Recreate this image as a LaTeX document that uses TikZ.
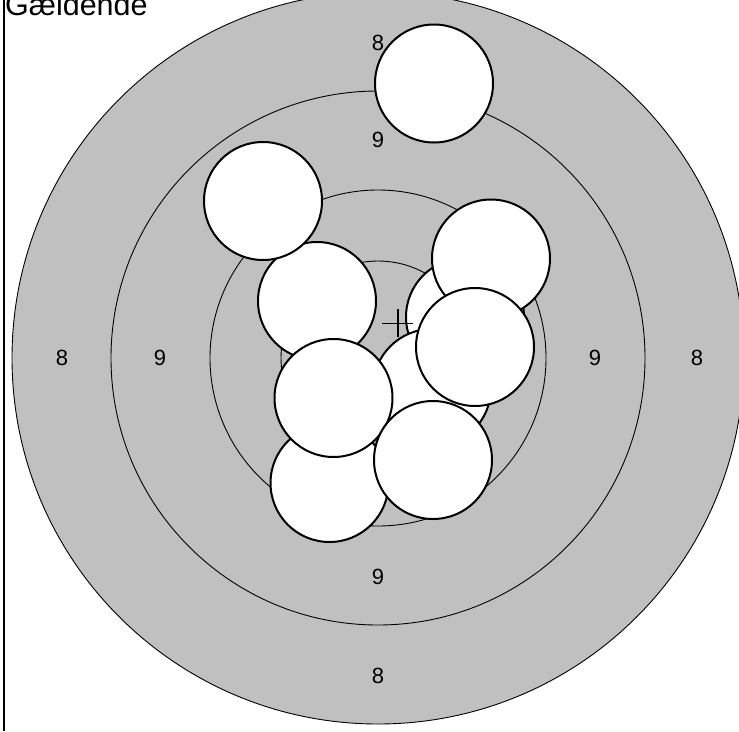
\documentclass[tikz,border=0pt]{standalone}
\usepackage{fontspec}
\setmainfont{Liberation Sans}
\usepackage{xcolor}
\usetikzlibrary{positioning}
\definecolor{targetgrey}{HTML}{C0C0C0}

\begin{document}
\begin{tikzpicture}[x=1pt, y=-1pt,
    ring/.style={line width=0.9pt},
    hole/.style={circle, draw, line width=2pt, fill=white, minimum size=118pt, inner sep=0pt},
    score/.style={font=\fontsize{22}{26}\selectfont, inner sep=0pt}]
    \useasboundingbox (0,0) rectangle (739,731);
    \clip (0,0) rectangle (739,731);

    % Target rings
    \coordinate (centre) at (378,358);
    \draw[ring, fill=targetgrey] (centre) circle (366pt);
    \draw[ring] (centre) circle (267pt);
    \draw[ring] (centre) circle (168pt);
    \draw[ring] (centre) circle (97pt);

    % Ring values
    \node[score] (lefteight) at (62,358) {8};
    \node[score] (leftnine) at (160,358) {9};
    \node[score] (rightnine) at (595,358) {9};
    \node[score] (righteight) at (697,358) {8};
    \node[score] (topeight) at (378,43) {8};
    \node[score] (topnine) at (378,140) {9};
    \node[score] (bottomnine) at (378,577) {9};
    \node[score] (bottomeight) at (378,676) {8};

    % Shot holes
    \node[hole] (shota) at (434,83.5) {};
    \node[hole] (shotd) at (317,301) {};
    \node[hole] (shotb) at (263,201) {};
    \node[hole] (shote) at (465,317) {};
    \node[hole] (shotc) at (491,258.5) {};
    \node[hole] (shotj) at (329.5,483) {};
    \node[hole] (shotg) at (432,388) {};
    \node[hole] (shotf) at (475,347) {};
    \node[hole] (shoth) at (333.5,398) {};
    \node[hole] (shoti) at (433,460) {};

    % Group centre
    \coordinate (groupmark) at (398,323.5);
    \draw[line width=1.2pt] ([xshift=-16pt]groupmark) -- ([xshift=15pt]groupmark);
    \draw[line width=1.2pt] ([yshift=14.5pt]groupmark) -- ([yshift=-13.5pt]groupmark);

    % Frame and title
    \draw[line width=1.3pt] (4,0) -- (4,731);
    \node[anchor=base west, inner sep=0pt, font=\fontsize{30.5}{34}\selectfont] (title) at (5,15) {Gældende};
\end{tikzpicture}
\end{document}
